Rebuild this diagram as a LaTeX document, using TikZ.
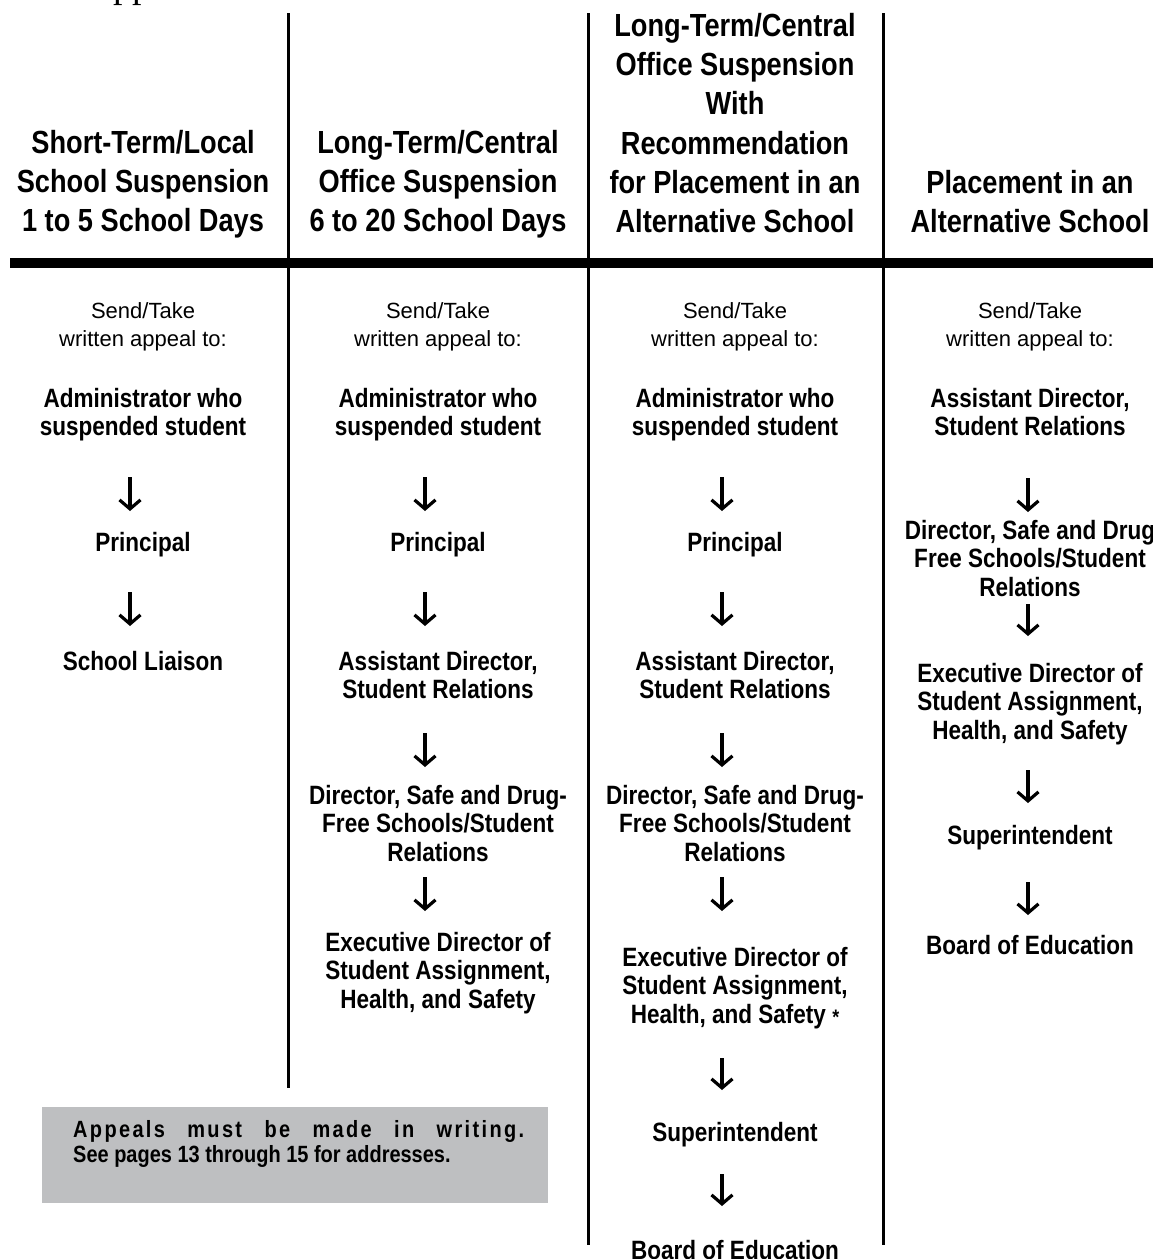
\documentclass[tikz,border=0pt]{standalone}
\usepackage{fontspec}
\setmainfont{Liberation Sans}
\newfontfamily\cond{Liberation Sans}[FakeStretch=0.85]
\newfontfamily\serifp{Liberation Serif}
\usetikzlibrary{arrows.meta}
\definecolor{boxgray}{RGB}{190,191,193}
\tikzset{
  hdr/.style={font=\cond\bfseries\fontsize{32}{39.3}\selectfont, align=center, inner sep=0pt, anchor=north},
  bd/.style={font=\cond\bfseries\fontsize{26.5}{28.5}\selectfont, align=center, inner sep=0pt, anchor=north},
  lt/.style={font=\fontsize{22}{28}\selectfont, align=center, inner sep=0pt, anchor=north},
  vline/.style={line width=3pt},
  flow/.style={line width=3.2pt, -{Straight Barb[length=9pt,width=21pt]}},
}
\begin{document}
\begin{tikzpicture}[x=1pt,y=-1pt]
\useasboundingbox (0,0) rectangle (1153,1259);
% cut-off title
\node[font=\serifp\fontsize{38}{38}\selectfont, anchor=base west, inner sep=0pt] (pp) at (113,-3) {pp};
% rules
\draw[vline] (288,13) coordinate (v1t) -- (288,1088) coordinate (v1b);
\draw[vline] (588,13) coordinate (v2t) -- (588,1245) coordinate (v2b);
\draw[vline] (883,13) coordinate (v3t) -- (883,1245) coordinate (v3b);
\draw[line width=10pt] (10,263) coordinate (rl) -- (1153,263) coordinate (rr);
% headers
\node[hdr] (h1) at (143,130) {Short-Term/Local\\School Suspension\\1 to 5 School Days};
\node[hdr] (h2) at (438,130) {Long-Term/Central\\Office Suspension\\6 to 20 School Days};
\node[hdr] (h3) at (735,13) {Long-Term/Central\\Office Suspension\\With\\Recommendation\\for Placement in an\\Alternative School};
\node[hdr] (h4) at (1030,170) {Placement in an\\Alternative School};
% column 1
\node[lt] (s1) at (143,302) {Send/Take\\written appeal to:};
\node[bd] (a1) at (143,388) {Administrator who\\suspended student};
\node[bd] (p1) at (143,532) {Principal};
\node[bd] (l1) at (143,651) {School Liaison};
\coordinate (u11) at (130,477); \draw[flow] (u11) -- ++(0,34);
\coordinate (u12) at (130,592); \draw[flow] (u12) -- ++(0,34);
% column 2
\node[lt] (s2) at (438,302) {Send/Take\\written appeal to:};
\node[bd] (a2) at (438,388) {Administrator who\\suspended student};
\node[bd] (p2) at (438,532) {Principal};
\node[bd] (ad2) at (438,651) {Assistant Director,\\Student Relations};
\node[bd] (d2) at (438,785) {Director, Safe and Drug-\\Free Schools/Student\\Relations};
\node[bd] (e2) at (438,932) {Executive Director of\\Student Assignment,\\Health, and Safety};
\coordinate (u21) at (425,477); \draw[flow] (u21) -- ++(0,34);
\coordinate (u22) at (425,592); \draw[flow] (u22) -- ++(0,34);
\coordinate (u23) at (425,733); \draw[flow] (u23) -- ++(0,34);
\coordinate (u24) at (425,877); \draw[flow] (u24) -- ++(0,34);
% column 3
\node[lt] (s3) at (735,302) {Send/Take\\written appeal to:};
\node[bd] (a3) at (735,388) {Administrator who\\suspended student};
\node[bd] (p3) at (735,532) {Principal};
\node[bd] (ad3) at (735,651) {Assistant Director,\\Student Relations};
\node[bd] (d3) at (735,785) {Director, Safe and Drug-\\Free Schools/Student\\Relations};
\node[bd] (e3) at (735,947) {Executive Director of\\Student Assignment,\\Health, and Safety {\fontsize{21}{21}\selectfont\raisebox{-1pt}{*}}};
\node[bd] (su3) at (735,1122) {Superintendent};
\node[bd] (b3) at (735,1240) {Board of Education};
\coordinate (u31) at (722,477); \draw[flow] (u31) -- ++(0,34);
\coordinate (u32) at (722,592); \draw[flow] (u32) -- ++(0,34);
\coordinate (u33) at (722,733); \draw[flow] (u33) -- ++(0,34);
\coordinate (u34) at (722,877); \draw[flow] (u34) -- ++(0,34);
\coordinate (u35) at (722,1058); \draw[flow] (u35) -- ++(0,32);
\coordinate (u36) at (722,1174); \draw[flow] (u36) -- ++(0,32);
% column 4
\node[lt] (s4) at (1030,302) {Send/Take\\written appeal to:};
\node[bd] (ad4) at (1030,388) {Assistant Director,\\Student Relations};
\node[bd] (d4) at (1030,520) {Director, Safe and Drug\\Free Schools/Student\\Relations};
\node[bd] (e4) at (1030,663) {Executive Director of\\Student Assignment,\\Health, and Safety};
\node[bd] (su4) at (1030,825) {Superintendent};
\node[bd] (b4) at (1030,935) {Board of Education};
\coordinate (u41) at (1028,478); \draw[flow] (u41) -- ++(0,34);
\coordinate (u42) at (1028,604); \draw[flow] (u42) -- ++(0,32);
\coordinate (u43) at (1028,770); \draw[flow] (u43) -- ++(0,33);
\coordinate (u44) at (1028,882); \draw[flow] (u44) -- ++(0,33);
% note box
\node[fill=boxgray, anchor=north west, minimum width=506pt, minimum height=96pt, inner sep=0pt] (note) at (42,1107) {};
\node[font=\cond\bfseries\fontsize{23.5}{25}\selectfont, align=left, anchor=north west, inner sep=0pt] (notetext) at (73,1120)
  {\hbox to 451pt{\addfontfeature{LetterSpace=10}Appeals\hfill must\hfill be\hfill made\hfill in\hfill writing.}\\See pages 13 through 15 for addresses.};
\end{tikzpicture}
\end{document}
